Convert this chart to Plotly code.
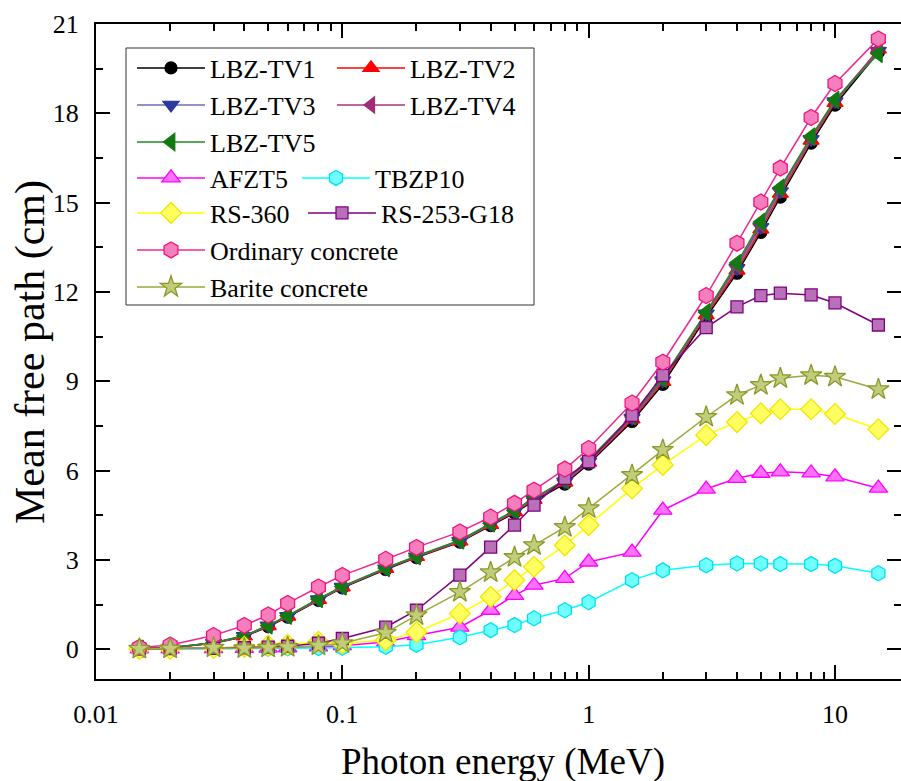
import numpy as np
import plotly.graph_objects as go

# ---------------- data ----------------
energy = [0.015, 0.02, 0.03, 0.04, 0.05, 0.06, 0.08, 0.1, 0.15, 0.2, 0.3, 0.4,
          0.5, 0.6, 0.8, 1, 1.5, 2, 3, 4, 5, 6, 8, 10, 15]

lbz_tv1 = [0.02, 0.05, 0.20, 0.42, 0.76, 1.08, 1.64, 2.06, 2.68, 3.08, 3.60, 4.15,
           4.58, 4.98, 5.55, 6.22, 7.65, 8.90, 11.15, 12.63, 14.00, 15.19, 17.00, 18.28, 20.05]
lbz_tv2 = [0.02, 0.05, 0.21, 0.43, 0.78, 1.10, 1.66, 2.08, 2.70, 3.10, 3.62, 4.18,
           4.61, 5.02, 5.60, 6.27, 7.72, 8.98, 11.22, 12.72, 14.10, 15.30, 17.08, 18.35, 20.15]
lbz_tv3 = [0.02, 0.05, 0.21, 0.44, 0.79, 1.11, 1.67, 2.09, 2.71, 3.11, 3.63, 4.20,
           4.63, 5.04, 5.63, 6.30, 7.77, 9.03, 11.27, 12.80, 14.18, 15.38, 17.13, 18.40, 20.10]
lbz_tv4 = [0.02, 0.05, 0.22, 0.45, 0.80, 1.12, 1.68, 2.10, 2.72, 3.12, 3.65, 4.22,
           4.65, 5.06, 5.66, 6.33, 7.80, 9.07, 11.30, 12.88, 14.27, 15.45, 17.18, 18.43, 20.12]
lbz_tv5 = [0.02, 0.05, 0.22, 0.45, 0.80, 1.13, 1.69, 2.11, 2.73, 3.13, 3.66, 4.23,
           4.66, 5.08, 5.68, 6.36, 7.85, 9.10, 11.32, 12.97, 14.35, 15.50, 17.22, 18.45, 20.00]
afzt5 = [0.01, 0.01, 0.02, 0.03, 0.04, 0.05, 0.08, 0.12, 0.24, 0.46, 0.74, 1.31,
         1.81, 2.15, 2.38, 2.93, 3.26, 4.67, 5.38, 5.74, 5.91, 5.96, 5.92, 5.79, 5.41]
tbzp10 = [0.01, 0.01, 0.01, 0.02, 0.02, 0.03, 0.04, 0.05, 0.08, 0.15, 0.40, 0.64,
          0.81, 1.04, 1.31, 1.58, 2.32, 2.65, 2.82, 2.88, 2.88, 2.86, 2.86, 2.80, 2.55]
rs_360 = [0.01, 0.02, 0.04, 0.08, 0.12, 0.15, 0.25, 0.20, 0.30, 0.57, 1.20, 1.76,
          2.32, 2.77, 3.49, 4.17, 5.40, 6.19, 7.19, 7.63, 7.92, 8.06, 8.06, 7.90, 7.39]
rs_253_g18 = [0.01, 0.02, 0.03, 0.05, 0.07, 0.10, 0.20, 0.36, 0.74, 1.31, 2.49, 3.43,
              4.17, 4.84, 5.74, 6.30, 7.85, 9.20, 10.80, 11.50, 11.88, 11.96, 11.90, 11.63, 10.89]
ordinary = [0.06, 0.14, 0.46, 0.80, 1.15, 1.54, 2.09, 2.48, 3.02, 3.42, 3.94, 4.44,
            4.90, 5.34, 6.05, 6.74, 8.27, 9.64, 11.88, 13.64, 15.02, 16.16, 17.86, 19.00, 20.50]
barite = [0.01, 0.02, 0.05, 0.03, 0.05, 0.07, 0.12, 0.20, 0.55, 1.14, 1.92, 2.58,
          3.09, 3.49, 4.10, 4.73, 5.85, 6.69, 7.80, 8.53, 8.87, 9.10, 9.20, 9.15, 8.73]

names = ["LBZ-TV1", "LBZ-TV2", "LBZ-TV3", "LBZ-TV4", "LBZ-TV5", "AFZT5", "TBZP10",
         "RS-360", "RS-253-G18", "Ordinary concrete", "Barite concrete"]
series = [lbz_tv1, lbz_tv2, lbz_tv3, lbz_tv4, lbz_tv5, afzt5, tbzp10,
          rs_360, rs_253_g18, ordinary, barite]

x_tickvals = [0.01, 0.1, 1, 10]
x_ticktext = ["0.01", "0.1", "1", "10"]
y_tickvals = [0, 3, 6, 9, 12, 15, 18, 21]

# ---------------- styles ----------------
# (line colour, marker fill, marker outline, symbol, size)
styles = [
    ("#000000", "#000000", "#000000", "circle", 12),
    ("#FF0000", "#FF0000", "#FF0000", "triangle-up", 14),
    ("#6E6EB4", "#2B3A9C", "#2B3A9C", "triangle-down", 14),
    ("#A8347F", "#A02C78", "#A02C78", "triangle-left", 14),
    ("#228B22", "#127A12", "#127A12", "triangle-left", 15),
    ("#FF00FF", "#FF70FF", "#FF00FF", "triangle-up", 16),
    ("#00FFFF", "#70FFFF", "#00E0F0", "hexagon", 15),
    ("#FFFF00", "#FFFF60", "#F2E600", "diamond", 16),
    ("#800080", "#B870B8", "#800080", "square", 12),
    ("#F0288C", "#F67EBC", "#F0147F", "hexagon", 16),
    ("#9AAA3A", "#C2CC7A", "#8A9A2A", "star", 16),
]

W, H = 901, 781
ML, MR, MT, MB = 96, 0, 24, 102
PW, PH = W - ML - MR, H - MT - MB


def paper_x(px):
    return (px - ML) / PW


def paper_y(py):
    return (H - MB - py) / PH


FONT = "Liberation Serif"

fig = go.Figure()

# legend entry positions (pixel: symbol start x, row centre y)
legend_pos = [(137, 68), (337, 68), (137, 105), (337, 105), (137, 142),
              (137, 178), (302, 178), (137, 213), (308, 213), (137, 250), (137, 287)]

for i, (nm, ys, st) in enumerate(zip(names, series, styles)):
    lc, fc, oc, sym, sz = st
    lg = "legend" if i == 0 else f"legend{i + 1}"
    fig.add_trace(go.Scatter(
        x=energy, y=ys, name=nm, mode="lines+markers",
        line=dict(color=lc, width=1.5),
        marker=dict(symbol=sym, size=sz, color=fc, line=dict(color=oc, width=1.3)),
        legend=lg,
    ))

layout_legends = {}
for i, (lx, ly) in enumerate(legend_pos):
    key = "legend" if i == 0 else f"legend{i + 1}"
    layout_legends[key] = dict(
        x=paper_x(lx - 5), y=paper_y(ly), xref="paper", yref="paper",
        xanchor="left", yanchor="middle", bgcolor="rgba(0,0,0,0)", borderwidth=0,
        font=dict(family=FONT, size=26, color="black"), itemwidth=68,
    )

minor_x = [k * 10.0 ** e for e in (-2, -1, 0, 1) for k in range(2, 10)]

fig.update_layout(
    width=W, height=H,
    margin=dict(l=ML, r=MR, t=MT, b=MB, pad=0, autoexpand=False),
    paper_bgcolor="white", plot_bgcolor="white",
    showlegend=True,
    font=dict(family=FONT, color="black"),
    xaxis=dict(
        type="log", range=[-2, -2 + PW / 246.33],
        tickvals=x_tickvals, ticktext=x_ticktext,
        ticks="inside", ticklen=14, tickwidth=1.5, tickcolor="black",
        showline=True, linewidth=2, linecolor="black", mirror="allticks",
        showgrid=False, zeroline=False,
        tickfont=dict(family=FONT, size=26, color="black"),
        ticklabelstandoff=11,
        minor=dict(tickvals=minor_x, ticks="inside", ticklen=7, tickwidth=1.5,
                   tickcolor="black", showgrid=False),
    ),
    yaxis=dict(
        range=[-1, 21], tickvals=y_tickvals,
        ticks="inside", ticklen=14, tickwidth=1.5, tickcolor="black",
        showline=True, linewidth=2, linecolor="black", mirror="allticks",
        showgrid=False, zeroline=False,
        tickfont=dict(family=FONT, size=26, color="black"),
        ticklabelstandoff=10,
        minor=dict(dtick=1.5, tick0=0, ticks="inside", ticklen=7, tickwidth=1.5,
                   tickcolor="black", showgrid=False),
    ),
    shapes=[dict(type="rect", xref="paper", yref="paper",
                 x0=paper_x(126), x1=paper_x(534), y0=paper_y(305), y1=paper_y(48),
                 line=dict(color="#333333", width=1), fillcolor="rgba(0,0,0,0)",
                 layer="below")],
    annotations=[
        dict(text="Photon energy (MeV)", xref="paper", yref="paper",
             x=paper_x(503), y=paper_y(762), xanchor="center", yanchor="middle",
             showarrow=False, font=dict(family=FONT, size=37, color="black")),
        dict(text="Mean free path (cm)", xref="paper", yref="paper",
             x=paper_x(30), y=paper_y(352), xanchor="center", yanchor="middle",
             textangle=-90, showarrow=False,
             font=dict(family=FONT, size=42, color="black")),
    ],
    **layout_legends,
)

fig.write_html("out.html")
